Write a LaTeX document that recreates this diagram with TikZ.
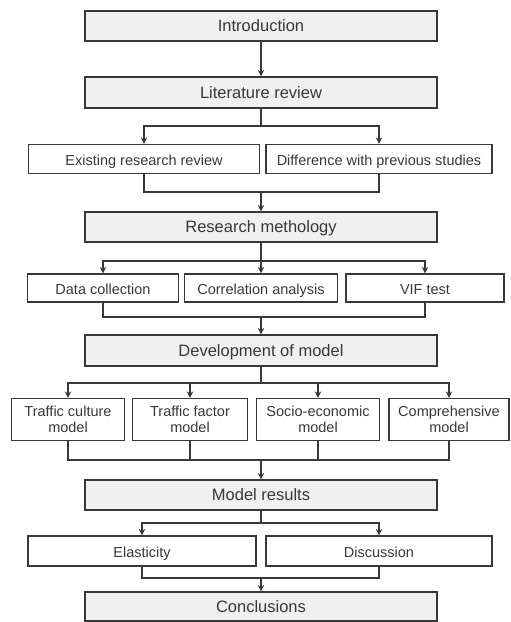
\documentclass[tikz,border=0pt]{standalone}
\usepackage{fontspec}
\setmainfont{Liberation Sans}
\usetikzlibrary{arrows.meta}
\definecolor{boxgray}{gray}{0.94}
\definecolor{linegray}{gray}{0.22}
\tikzstyle{mainbox} = [rectangle, draw=linegray, line width=1.2pt, fill=boxgray, minimum width=352pt, minimum height=30pt, inner sep=0pt, text height=14pt, text depth=3pt, text=linegray, font=\fontsize{16.5pt}{19pt}\selectfont]
\tikzstyle{subbox} = [rectangle, draw=linegray, line width=1.2pt, fill=white, minimum height=29pt, inner sep=0pt, text height=15pt, text depth=2.5pt, text=linegray, font=\fontsize{14.5pt}{17pt}\selectfont]
\tikzstyle{twobox} = [rectangle, draw=linegray, line width=1.2pt, fill=white, minimum height=42pt, inner sep=0pt, align=center, text=linegray, font=\fontsize{14.5pt}{15.5pt}\selectfont]
\tikzstyle{arrow} = [line width=1.1pt,-{Stealth[length=6.5pt,width=6.5pt]},draw=linegray]
\tikzstyle{link} = [line width=1.1pt,draw=linegray]

\begin{document}
\begin{tikzpicture}[x=1pt, y=-1pt]
        \useasboundingbox (0,0) rectangle (511,622);
        \node (intro) [mainbox] at (261,26) {Introduction};
        \node (lit) [mainbox, minimum height=31pt] at (261,92.5) {Literature review};
        \node (existing) [subbox, minimum width=231pt] at (144,159) {Existing research review};
        \node (diff) [subbox, minimum width=226pt] at (379,159) {Difference with previous studies};
        \node (method) [mainbox] at (261,227) {Research methology};
        \node (data) [subbox, minimum width=151pt, minimum height=28pt] at (103,288) {Data collection};
        \node (corr) [subbox, minimum width=153pt, minimum height=28pt] at (261,288) {Correlation analysis};
        \node (vif) [subbox, minimum width=158pt, minimum height=28pt] at (425,288) {VIF test};
        \node (devel) [mainbox, minimum height=31pt] at (261,350.5) {Development of model};
        \node (culture) [twobox, minimum width=113pt] at (68,419.5) {Traffic culture\\model};
        \node (factor) [twobox, minimum width=115pt] at (190,419.5) {Traffic factor\\model};
        \node (socio) [twobox, minimum width=123pt] at (318,419.5) {Socio-economic\\model};
        \node (comp) [twobox, minimum width=120pt] at (449,419.5) {Comprehensive\\model};
        \node (results) [mainbox] at (261,495) {Model results};
        \node (elast) [subbox, minimum width=228pt, minimum height=30pt] at (142,551) {Elasticity};
        \node (disc) [subbox, minimum width=226pt, minimum height=30pt] at (379,551) {Discussion};
        \node (concl) [mainbox, minimum height=29pt] at (261,606.5) {Conclusions};

        % split and merge points
        \coordinate (b1) at (261,126);
        \coordinate (m1) at (261,192);
        \coordinate (b2) at (261,261);
        \coordinate (m2) at (261,317);
        \coordinate (b3) at (261,383);
        \coordinate (m3) at (261,460);
        \coordinate (b4) at (261,523);
        \coordinate (m4) at (261,578);

        \path[arrow] (intro) edge (lit);

        \draw[link] (lit) -- (b1);
        \draw[arrow] (b1) -| (existing.north);
        \draw[arrow] (b1) -| (diff.north);
        \draw[link] (existing.south) |- (m1) -| (diff.south);
        \draw[arrow] (m1) -- (method);

        \draw[link] (method) -- (b2);
        \draw[arrow] (b2) -| (data.north);
        \draw[arrow] (b2) -- (corr.north);
        \draw[arrow] (b2) -| (vif.north);
        \draw[link] (data.south) |- (m2) -| (vif.south);
        \draw[arrow] (m2) -- (devel);

        \draw[link] (devel) -- (b3);
        \draw[arrow] (b3) -| (culture.north);
        \draw[arrow] (b3) -| (factor.north);
        \draw[arrow] (b3) -| (socio.north);
        \draw[arrow] (b3) -| (comp.north);
        \draw[link] (culture.south) |- (m3) -| (comp.south);
        \draw[link] (factor.south) -- (factor.south |- m3);
        \draw[link] (socio.south) -- (socio.south |- m3);
        \draw[arrow] (m3) -- (results);

        \draw[link] (results) -- (b4);
        \draw[arrow] (b4) -| (elast.north);
        \draw[arrow] (b4) -| (disc.north);
        \draw[link] (elast.south) |- (m4) -| (disc.south);
        \draw[arrow] (m4) -- (concl);

    \end{tikzpicture}
\end{document}
